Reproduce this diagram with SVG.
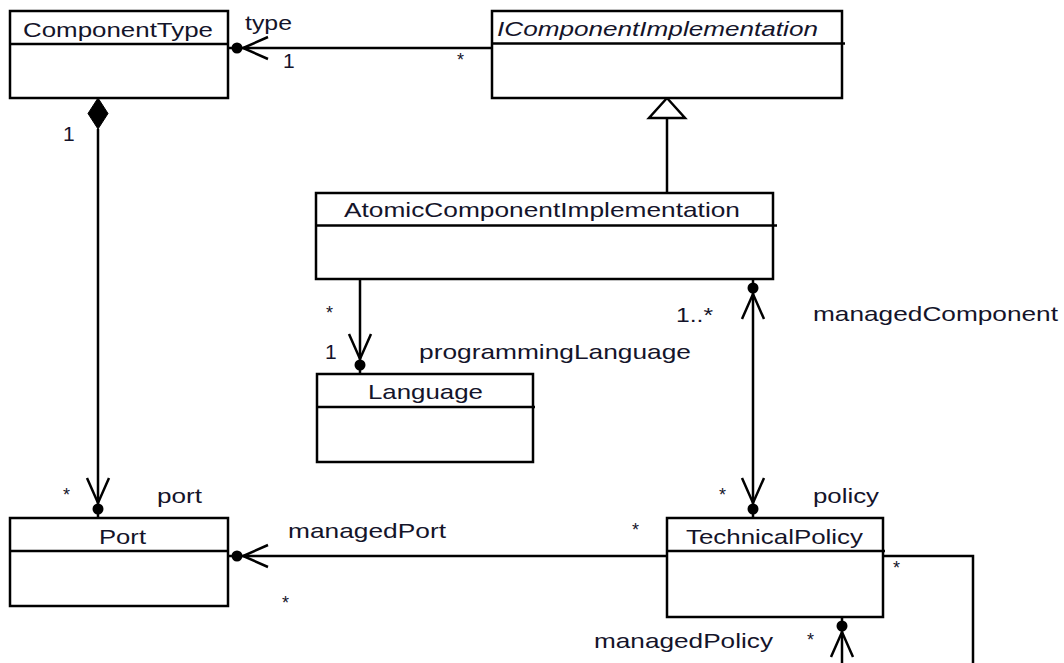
<svg xmlns="http://www.w3.org/2000/svg" width="1064" height="663" viewBox="0 0 1064 663">
<style>
.box{fill:#fff;stroke:#000;stroke-width:2.5}
.div{stroke:#000;stroke-width:2.5;fill:none}
.ln{stroke:#000;stroke-width:2.5;fill:none}
.t{font-family:"Liberation Sans",Arial,sans-serif;font-size:21px;fill:#14142a}
.ti{font-family:"Liberation Sans",Arial,sans-serif;font-size:21px;font-style:italic;fill:#14142a}
.m{font-family:"Liberation Sans",Arial,sans-serif;font-size:18px;fill:#14142a}
</style>
<defs>
<marker id="nav" markerUnits="userSpaceOnUse" markerWidth="46" markerHeight="30" viewBox="0 0 46 30" refX="44" refY="15" orient="auto-start-reverse" overflow="visible">
<circle cx="35" cy="15" r="5.5" fill="#000"/>
<path d="M4,4 L29,15 L4,26" fill="none" stroke="#000" stroke-width="2.5"/>
</marker>
</defs>
<rect width="1064" height="663" fill="#fff"/>

<g id="connectors">
<path class="ln" d="M492,48 H228" marker-end="url(#nav)"/>
<path class="ln" d="M98,129 V518" marker-end="url(#nav)"/>
<polygon points="98,98 108,113.5 98,129 88,113.5" fill="#000" stroke="#000" stroke-width="1"/>
<path class="ln" d="M667,193 V118"/>
<polygon points="667,98 685,118 649,118" fill="#fff" stroke="#000" stroke-width="2.5" stroke-linejoin="miter"/>
<path class="ln" d="M360,279 V374" marker-end="url(#nav)"/>
<path class="ln" d="M753,279 V518" marker-start="url(#nav)" marker-end="url(#nav)"/>
<path class="ln" d="M667,556 H228" marker-end="url(#nav)"/>
<path class="ln" d="M883,556 H973 V670"/>
<path class="ln" d="M842,670 V617" marker-end="url(#nav)"/>
<text class="t" x="245" y="30" textLength="47" lengthAdjust="spacingAndGlyphs">type</text>
<text class="t" x="283" y="68">1</text>
<text class="m" x="457" y="66">*</text>
<text class="t" x="63" y="141">1</text>
<text class="m" x="326" y="319">*</text>
<text class="t" x="325" y="359">1</text>
<text class="t" x="419" y="359" textLength="272" lengthAdjust="spacingAndGlyphs">programmingLanguage</text>
<text class="t" x="676" y="322" textLength="37" lengthAdjust="spacingAndGlyphs">1..*</text>
<text class="t" x="813" y="321" textLength="245" lengthAdjust="spacingAndGlyphs">managedComponent</text>
<text class="m" x="63" y="501">*</text>
<text class="t" x="157" y="503" textLength="45" lengthAdjust="spacingAndGlyphs">port</text>
<text class="t" x="288" y="538" textLength="158" lengthAdjust="spacingAndGlyphs">managedPort</text>
<text class="m" x="282" y="609">*</text>
<text class="m" x="719" y="501">*</text>
<text class="t" x="813" y="503" textLength="66" lengthAdjust="spacingAndGlyphs">policy</text>
<text class="m" x="632" y="536">*</text>
<text class="m" x="893" y="574">*</text>
<text class="t" x="594" y="648" textLength="179" lengthAdjust="spacingAndGlyphs">managedPolicy</text>
<text class="m" x="807" y="646">*</text>
</g>

<g id="ComponentType">
<rect class="box" x="10" y="11" width="218" height="87"/>
<path class="div" d="M10,44 H228"/>
<text class="t" x="23" y="37" textLength="190" lengthAdjust="spacingAndGlyphs">ComponentType</text>
</g>

<g id="IComponentImplementation">
<rect class="box" x="492" y="11" width="350" height="87"/>
<path class="div" d="M492,43.5 H845"/>
<text class="ti" x="497" y="36" textLength="321" lengthAdjust="spacingAndGlyphs">IComponentImplementation</text>
</g>

<g id="AtomicComponentImplementation">
<rect class="box" x="316" y="193" width="457" height="86"/>
<path class="div" d="M316,225.5 H777"/>
<text class="t" x="344" y="217" textLength="396" lengthAdjust="spacingAndGlyphs">AtomicComponentImplementation</text>
</g>

<g id="Language">
<rect class="box" x="317" y="374" width="216" height="88"/>
<path class="div" d="M317,407 H535"/>
<text class="t" x="368" y="399" textLength="115" lengthAdjust="spacingAndGlyphs">Language</text>
</g>

<g id="Port">
<rect class="box" x="10" y="518" width="218" height="88"/>
<path class="div" d="M10,551 H228"/>
<text class="t" x="99" y="544" textLength="47" lengthAdjust="spacingAndGlyphs">Port</text>
</g>

<g id="TechnicalPolicy">
<rect class="box" x="667" y="518" width="216" height="99"/>
<path class="div" d="M667,551 H885"/>
<text class="t" x="686" y="544" textLength="177" lengthAdjust="spacingAndGlyphs">TechnicalPolicy</text>
</g>
</svg>
